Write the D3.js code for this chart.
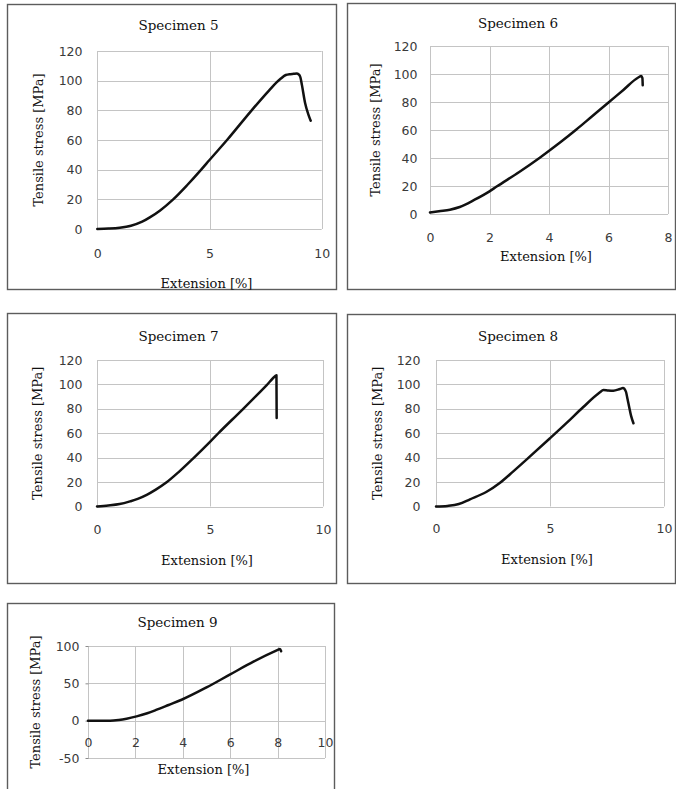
<!DOCTYPE html>
<html>
<head>
<meta charset="utf-8">
<script src="https://cdn.jsdelivr.net/npm/d3@7"></script>
<style>
  html, body { margin: 0; padding: 0; background: #fff; }
</style>
</head>
<body>
<div id="charts"></div>
<script>
// ---- data (extension in %, stress in MPa) ----
var spec5Ext    = [0, 0.5, 1, 1.5, 2, 2.34, 2.8, 3.37, 4.0, 4.63, 5.0, 5.81, 6.85, 7.66, 8.0, 8.18, 8.4, 8.6, 8.75, 8.88, 8.98, 9.05, 9.12, 9.26, 9.4, 9.51];
var spec5Stress = [0, 0.3, 0.9, 2.2, 4.9, 7.8, 12.5, 19.8, 29.5, 40, 46.5, 60.5, 79.5, 93.5, 99, 101.4, 103.8, 104.4, 104.6, 104.8, 104.2, 102.3, 97, 85, 77.5, 73];

var spec6Ext    = [0, 0.3, 0.67, 1, 1.5, 2, 2.24, 3, 3.69, 4.37, 4.92, 5.45, 6.0, 6.5, 7.0, 7.1, 7.14, 7.15];
var spec6Stress = [1, 2, 3.1, 5, 10.2, 16.2, 19.6, 30, 40.2, 51, 60.3, 69.8, 79.6, 88.6, 97.5, 98.5, 97, 92];

var spec7Ext    = [0, 0.5, 1, 1.46, 1.8, 2.2, 2.6, 3.08, 3.6, 4.26, 5.0, 5.37, 6.47, 7.51, 7.9, 7.94, 7.95];
var spec7Stress = [0, 0.8, 2.0, 4.2, 6.2, 9.5, 13.8, 19.8, 28, 39.5, 53, 60, 80, 99.5, 107, 107.5, 72.5];

var spec8Ext    = [0, 0.5, 1, 1.49, 2.22, 2.81, 3.39, 4.05, 5.0, 5.73, 6.46, 7.19, 7.34, 7.55, 7.78, 8.07, 8.2, 8.33, 8.4, 8.47, 8.56, 8.66];
var spec8Stress = [0, 0.5, 2, 5.9, 12.1, 19.5, 28.8, 39.8, 55.9, 68.5, 81.5, 93.5, 95.5, 95.1, 94.9, 96.3, 97, 94.1, 88, 81.8, 74, 68.2];

var spec9Ext    = [0, 0.93, 1.3, 1.63, 2.05, 2.5, 2.9, 3.4, 3.95, 5.0, 6.0, 7.0, 8.03, 8.1, 8.15];
var spec9Stress = [0, 0, 1, 2.7, 5.8, 10, 14.7, 21, 28, 44.5, 62, 79.3, 95, 96, 93];

// tick labels
var stressTicks120 = [0, 20, 40, 60, 80, 100, 120];
var stressTicks9   = [-50, 0, 50, 100];
var extTicks10     = [0, 5, 10];
var extTicks8      = [0, 2, 4, 6, 8];
var extTicks10by2  = [0, 2, 4, 6, 8, 10];

var titles = ["Specimen 5", "Specimen 6", "Specimen 7", "Specimen 8", "Specimen 9"];
var xTitle = "Extension [%]";
var yTitle = "Tensile stress [MPa]";

////////////////////////////////////////////////////////////////////////////////////////////////

var serif = "'DejaVu Serif', serif";
var sans = "'DejaVu Sans', sans-serif";
var gridColor = "#c4c4c4";

var panels = [
    {title: titles[0], ext: spec5Ext, stress: spec5Stress, xTicks: extTicks10, yTicks: stressTicks120,
     frame: [7, 4, 329, 285], left: 97.3, right: 321.7, top: 51, bottom: 229,
     titleY: 25, yTitleX: 38, xTitleY: 283, xLabelOff: 25, yPad: 15},
    {title: titles[1], ext: spec6Ext, stress: spec6Stress, xTicks: extTicks8, yTicks: stressTicks120,
     frame: [347, 3, 328, 286], left: 430, right: 668, top: 46, bottom: 214,
     titleY: 23, yTitleX: 375, xTitleY: 256, xLabelOff: 24, yPad: 13},
    {title: titles[2], ext: spec7Ext, stress: spec7Stress, xTicks: extTicks10, yTicks: stressTicks120,
     frame: [7, 313, 329, 270], left: 97, right: 323, top: 360, bottom: 506.5,
     titleY: 336, yTitleX: 37, xTitleY: 560, xLabelOff: 23, yPad: 15},
    {title: titles[3], ext: spec8Ext, stress: spec8Stress, xTicks: extTicks10, yTicks: stressTicks120,
     frame: [347, 314, 328, 269], left: 436, right: 664, top: 360, bottom: 506.5,
     titleY: 336, yTitleX: 377, xTitleY: 559, xLabelOff: 22.5, yPad: 16},
    {title: titles[4], ext: spec9Ext, stress: spec9Stress, xTicks: extTicks10by2, yTicks: stressTicks9,
     frame: [7, 603, 327, 200], left: 88, right: 325, top: 646, bottom: 758,
     titleY: 622, yTitleX: 35, xTitleY: 769, xLabelOff: 22, yPad: 6, yTickMark: 3, xAxisAtZero: true}
];

var svg = d3.select("#charts").append("svg")
    .attr("width", 676)
    .attr("height", 789)
    .style("display", "block");

svg.append("rect").attr("width", 676).attr("height", 789).attr("fill", "#fff");

function plainNumber(d) {
    return String(d);   // keep the ascii hyphen for -50
}

function drawPanel(p) {
    var x = d3.scaleLinear()
        .domain([p.xTicks[0], p.xTicks[p.xTicks.length - 1]])
        .range([p.left, p.right]);
    var y = d3.scaleLinear()
        .domain([p.yTicks[0], p.yTicks[p.yTicks.length - 1]])
        .range([p.bottom, p.top]);

    var g = svg.append("g");

    // outer frame
    g.append("rect")
        .attr("x", p.frame[0] + 0.5)
        .attr("y", p.frame[1] + 0.5)
        .attr("width", p.frame[2])
        .attr("height", p.frame[3])
        .attr("fill", "none")
        .attr("stroke", "#5c5c5c")
        .attr("stroke-width", 1.4);

    // grid lines
    g.append("g").selectAll("line")
        .data(p.yTicks)
        .enter().append("line")
            .attr("x1", x.range()[0])
            .attr("x2", x.range()[1])
            .attr("y1", function(d) { return Math.round(y(d)) + 0.5; })
            .attr("y2", function(d) { return Math.round(y(d)) + 0.5; })
            .attr("stroke", gridColor);

    g.append("g").selectAll("line")
        .data(p.xTicks)
        .enter().append("line")
            .attr("x1", function(d) { return Math.round(x(d)) + 0.5; })
            .attr("x2", function(d) { return Math.round(x(d)) + 0.5; })
            .attr("y1", y.range()[1])
            .attr("y2", y.range()[0])
            .attr("stroke", gridColor);

    // y tick labels
    var yAxis = g.append("g")
        .attr("transform", "translate(" + (Math.round(p.left) + 0.5) + ",0)")
        .call(d3.axisLeft(y).tickValues(p.yTicks).tickFormat(plainNumber)
            .tickSize(p.yTickMark || 0).tickPadding(p.yPad));
    yAxis.select(".domain").remove();
    yAxis.selectAll("line").attr("stroke", "#8c8c8c");
    yAxis.selectAll("text")
        .attr("font-family", sans)
        .attr("font-size", 12.5)
        .attr("fill", "#3a3a3a");

    // x tick labels
    var xBase = p.xAxisAtZero ? y(0) : p.bottom;
    var xAxis = g.append("g")
        .attr("transform", "translate(0," + xBase + ")")
        .call(d3.axisBottom(x).tickValues(p.xTicks).tickFormat(plainNumber).tickSize(0));
    xAxis.select(".domain").remove();
    xAxis.selectAll("text")
        .attr("y", p.xLabelOff)
        .attr("dy", "0.35em")
        .attr("font-family", sans)
        .attr("font-size", 12.5)
        .attr("fill", "#3a3a3a");

    // the curve
    var line = d3.line()
        .curve(d3.curveMonotoneX)
        .x(function(d) { return x(d[0]); })
        .y(function(d) { return y(d[1]); });

    g.append("path")
        .datum(d3.zip(p.ext, p.stress))
        .attr("d", line)
        .attr("fill", "none")
        .attr("stroke", "#111")
        .attr("stroke-width", 2.5)
        .attr("stroke-linejoin", "round")
        .attr("stroke-linecap", "round");

    // titles
    g.append("text")
        .attr("x", p.frame[0] + p.frame[2] / 2 + 7)
        .attr("y", p.titleY)
        .attr("dy", "0.35em")
        .attr("text-anchor", "middle")
        .attr("font-family", serif)
        .attr("font-size", 13.5)
        .attr("fill", "#111")
        .text(p.title);

    g.append("text")
        .attr("transform", "translate(" + p.yTitleX + "," + ((p.top + p.bottom) / 2) + ") rotate(-90)")
        .attr("dy", "0.35em")
        .attr("text-anchor", "middle")
        .attr("font-family", serif)
        .attr("font-size", 13)
        .attr("fill", "#111")
        .text(yTitle);

    g.append("text")
        .attr("x", (p.left + p.right) / 2 - 3)
        .attr("y", p.xTitleY)
        .attr("dy", "0.35em")
        .attr("text-anchor", "middle")
        .attr("font-family", serif)
        .attr("font-size", 13)
        .attr("fill", "#111")
        .text(xTitle);
}

panels.forEach(drawPanel);
</script>
</body>
</html>
